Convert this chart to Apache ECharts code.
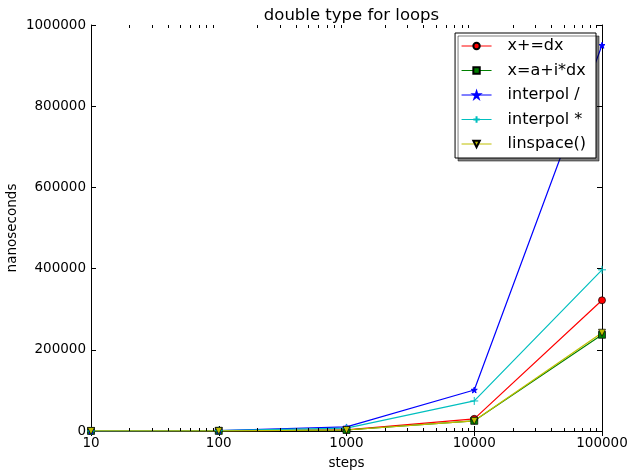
<!DOCTYPE html>
<html><head><meta charset="utf-8">
<script src="https://cdn.jsdelivr.net/npm/echarts@6/dist/echarts.min.js"></script>
<style>html,body{margin:0;padding:0;background:#fff}#c{width:628px;height:470px}</style>
</head><body><div id="c"></div>
<script>
var steps = [10, 100, 1000, 10000, 100000];
var xPlusDx = [100, 400, 3000, 30000, 322000];
var xAIDx = [100, 300, 2500, 25000, 237000];
var interpolDiv = [200, 1200, 10000, 101000, 950000];
var interpolMul = [150, 900, 7000, 74000, 397000];
var linspace = [100, 300, 2500, 25000, 242000];
var yTicks = [0, 200000, 400000, 600000, 800000, 1000000];
var minorX = [20,30,40,50,60,70,80,90,200,300,400,500,600,700,800,900,2000,3000,4000,5000,6000,7000,8000,9000,20000,30000,40000,50000,60000,70000,80000,90000];

var FONT = 'DejaVu Sans';
function pairs(v){ return steps.map(function(s,i){ return [s, v[i]]; }); }

var chart = echarts.init(document.getElementById('c'));
var axisLine = {show:true, lineStyle:{color:'#000', width:1}};
function mk(name, data, color, symbol, size, border){
  return {
    name: name, type:'line', data: pairs(data), xAxisIndex:0, yAxisIndex:0,
    symbol: symbol, symbolSize: size, showAllSymbol:true,
    lineStyle:{color:color, width:1.2},
    itemStyle:{color:color, borderColor: border ? '#000' : color, borderWidth: border ? 0.7 : 1},
    emphasis:{disabled:true}, animation:false, z: 3
  };
}
var plusPath = 'path://M0,5L10,5M5,0L5,10';
var option = {
  animation:false,
  textStyle:{fontFamily:FONT},
  title:{text:'double type for loops', left:346.5, top:2, textAlign:'center',
    textStyle:{fontFamily:FONT, fontSize:16.5, fontWeight:'normal', color:'#000'}},
  grid:{left:91, right:26, top:25, bottom:39, show:false, outerBoundsMode:'none', containLabel:false},
  legend:{
    orient:'vertical', right:32, top:33, itemWidth:30, itemHeight:8, itemGap:8.5,
    padding:[5,10,6,6],
    backgroundColor:'#fff', borderColor:'#000', borderWidth:1,
    shadowColor:'rgba(0,0,0,0.5)', shadowOffsetX:3, shadowOffsetY:3, shadowBlur:0,
    lineStyle:{width:1},
    textStyle:{fontFamily:FONT, fontSize:16, color:'#000', padding:[0,0,0,11]},
    data:['x+=dx','x=a+i*dx','interpol /','interpol *','linspace()']
  },
  xAxis:[{
    type:'log', logBase:10, min:10, max:100000, name:'steps', nameLocation:'middle', nameGap:25,
    nameTextStyle:{fontFamily:FONT, fontSize:13.5, color:'#000'},
    axisLine:axisLine, axisTick:{show:true, inside:true, length:5, lineStyle:{color:'#000'}},
    axisLabel:{fontFamily:FONT, fontSize:13.5, color:'#000', margin:5, formatter:function(v){return String(Math.round(v));}},
    splitLine:{show:false}
  },{
    type:'log', logBase:10, min:10, max:100000, position:'top',
    axisLine:axisLine, axisTick:{show:true, inside:true, length:5, lineStyle:{color:'#000'}},
    axisLabel:{show:false}, splitLine:{show:false}
  }],
  yAxis:[{
    type:'value', min:0, max:1000000, interval:200000, name:'nanoseconds', nameLocation:'middle', nameGap:72,
    nameMoveOverlap:false,
    nameTextStyle:{fontFamily:FONT, fontSize:13.5, color:'#000'},
    axisLine:axisLine, axisTick:{show:true, inside:true, length:5, lineStyle:{color:'#000'}},
    axisLabel:{fontFamily:FONT, fontSize:13.5, color:'#000', margin:5, formatter:function(v){return String(v);}},
    splitLine:{show:false}
  },{
    type:'value', min:0, max:1000000, interval:200000, position:'right',
    axisLine:axisLine, axisTick:{show:true, inside:true, length:5, lineStyle:{color:'#000'}},
    axisLabel:{show:false}, splitLine:{show:false}
  }],
  series:[
    mk('x+=dx', xPlusDx, '#ff0000', 'circle', 7, true),
    mk('x=a+i*dx', xAIDx, '#008000', 'rect', 7, true),
    mk('interpol /', interpolDiv, '#0000ff', 'path://M5,0L6.2,3.6L10,3.6L6.9,5.8L8.1,9.5L5,7.2L1.9,9.5L3.1,5.8L0,3.6L3.8,3.6Z', 6, false),
    (function(){ var s = mk('interpol *', interpolMul, '#00bfbf', plusPath, 8, false);
      s.itemStyle = {color:'none', borderColor:'#00bfbf', borderWidth:1}; return s; })(),
    mk('linspace()', linspace, '#bfbf00', 'path://M0,0L10,0L5,10Z', 7, true),
    {
      type:'custom', silent:true, animation:false, z:5, legendHoverLink:false,
      data: minorX.map(function(v){ return [v, 0]; }),
      renderItem:function(params, api){
        var p = api.coord([api.value(0), 0]);
        var cs = params.coordSys;
        var style = {stroke:'#000', lineWidth:1};
        var x = Math.round(p[0]) + 0.5;
        return {type:'group', children:[
          {type:'line', shape:{x1:x, y1:cs.y+cs.height, x2:x, y2:cs.y+cs.height-3}, style:style},
          {type:'line', shape:{x1:x, y1:cs.y, x2:x, y2:cs.y+3}, style:style}
        ]};
      }
    }
  ]
};
chart.setOption(option);
</script></body></html>
